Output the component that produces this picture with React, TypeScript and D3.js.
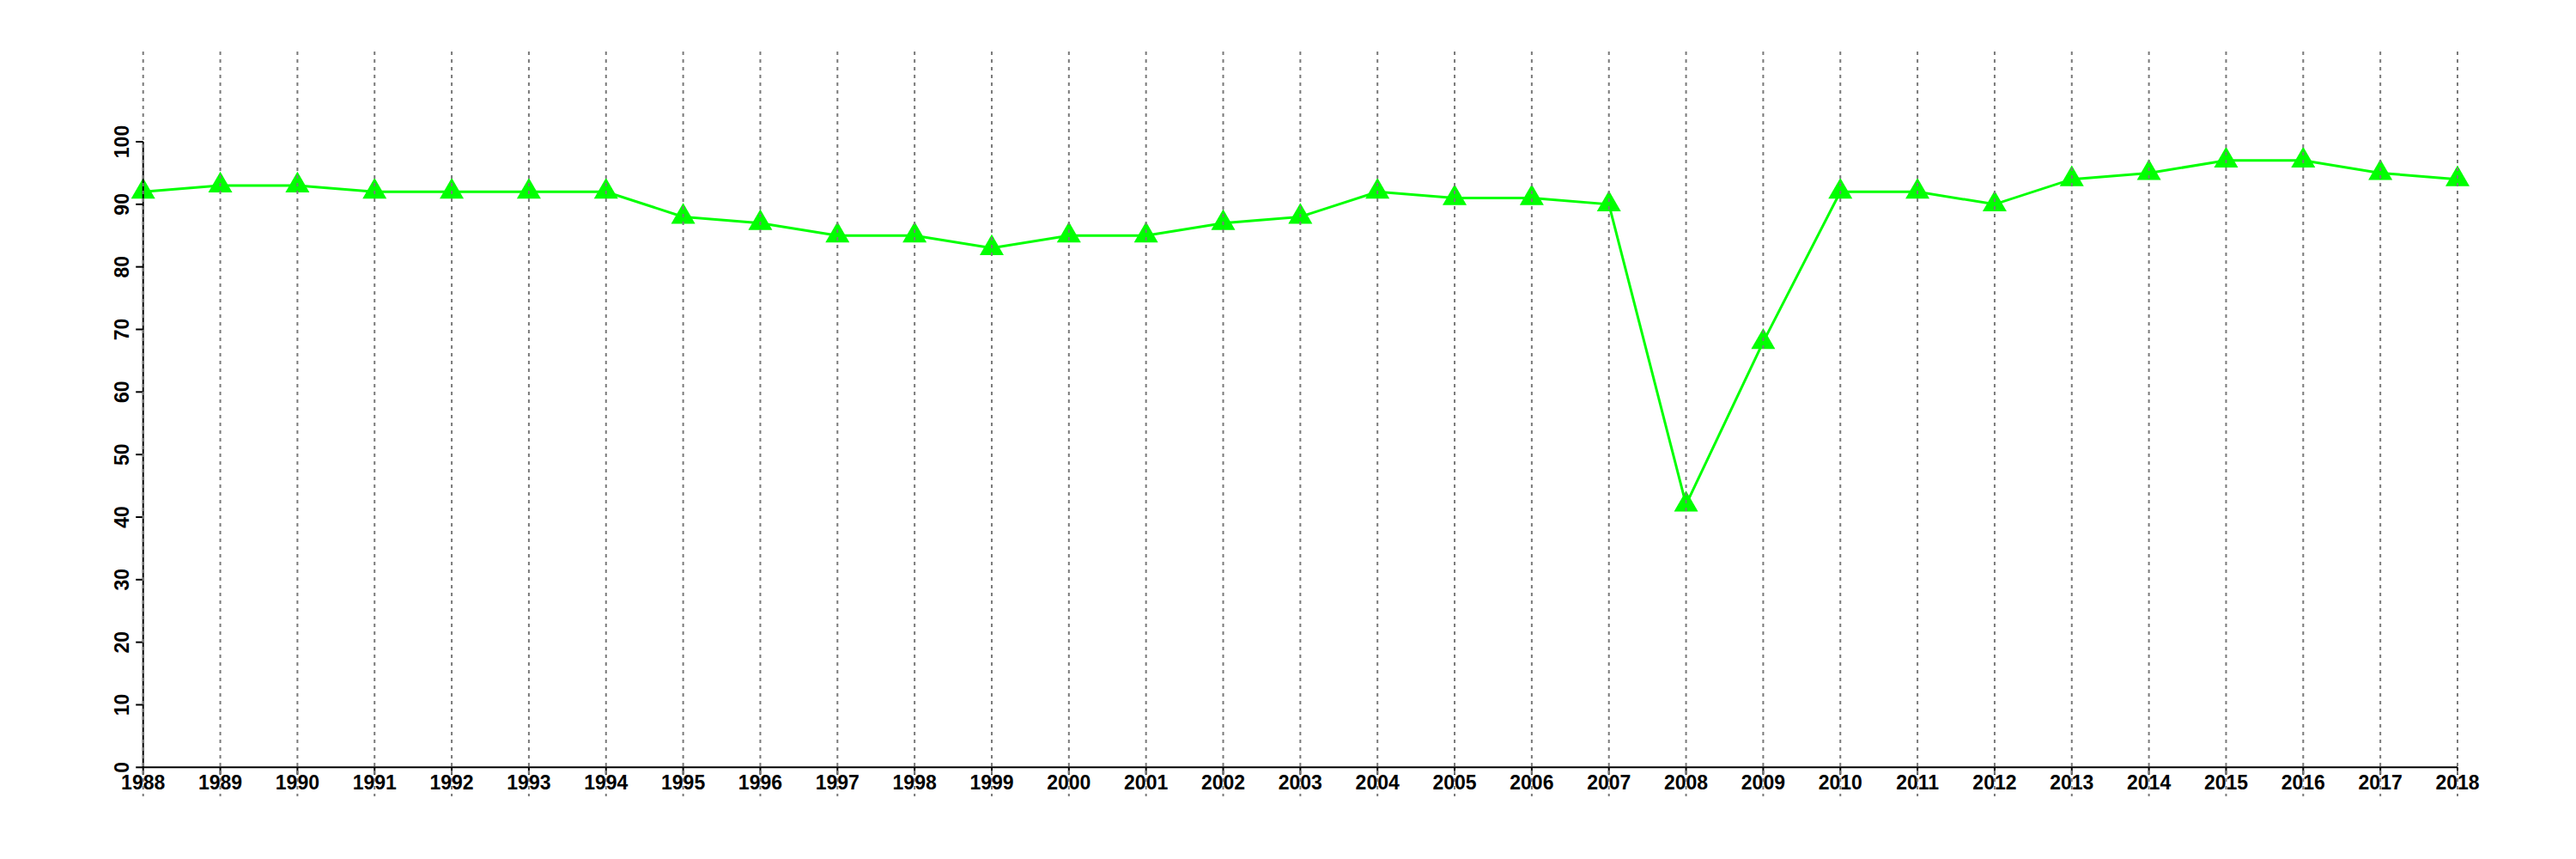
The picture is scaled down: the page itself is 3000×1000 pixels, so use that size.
import React from "react";
import * as d3 from "d3";

const years: number[] = [1988,1989,1990,1991,1992,1993,1994,1995,1996,1997,1998,1999,2000,2001,2002,2003,2004,2005,2006,2007,2008,2009,2010,2011,2012,2013,2014,2015,2016,2017,2018];
const values: number[] = [92,93,93,92,92,92,92,88,87,85,85,83,85,85,87,88,92,91,91,90,42,68,92,92,90,94,95,97,97,95,94];
const yTicks: number[] = [0,10,20,30,40,50,60,70,80,90,100];

const W = 3000, H = 1000;

export default function App() {
  const x = d3.scaleLinear().domain([1988, 2018]).range([166.7, 2862]);
  const y = d3.scaleLinear().domain([0, 100]).range([893.3, 165]);
  const line = d3.line<number>().x((_, i) => x(years[i])).y((d) => y(d));
  const s = 10.4;
  const r = 1.555 * s, xc = 1.347 * s, yc = 0.778 * s;
  const tri = (cx: number, cy: number) =>
    `M${cx},${cy - r}L${cx + xc},${cy + yc}L${cx - xc},${cy + yc}Z`;
  const font = "'Liberation Sans', Arial, Helvetica, sans-serif";
  return (
    <svg width={W} height={H} style={{ display: "block", position: "absolute", left: 0, top: 0 }}>
      <rect width={W} height={H} fill="#fff" />
      <path d={line(values) || ""} fill="none" stroke="#00ff00" strokeWidth={3} />
      {values.map((v, i) => (
        <path key={i} d={tri(x(years[i]), y(v))} fill="#00ff00" />
      ))}
      {/* y axis */}
      <line x1={x(1988)} x2={x(1988)} y1={y(0)} y2={y(100)} stroke="#000" strokeWidth={2} />
      {yTicks.map((t) => (
        <g key={t}>
          <line x1={x(1988) - 8.5} x2={x(1988)} y1={y(t)} y2={y(t)} stroke="#000" strokeWidth={2} />
          <text transform={`translate(150,${y(t)}) rotate(-90)`} textAnchor="middle" fontFamily={font} fontWeight="bold" fontSize={23} fill="#000">{t}</text>
        </g>
      ))}
      {/* x axis */}
      <line x1={x(1988)} x2={x(2018)} y1={y(0)} y2={y(0)} stroke="#000" strokeWidth={2} />
      {years.map((yr) => (
        <g key={yr}>
          <line x1={x(yr)} x2={x(yr)} y1={y(0)} y2={y(0) + 8.5} stroke="#000" strokeWidth={2} />
          <text x={x(yr)} y={919} textAnchor="middle" fontFamily={font} fontWeight="bold" fontSize={23} fill="#000">{yr}</text>
        </g>
      ))}
      {/* grid */}
      {years.map((yr) => (
        <line key={"g" + yr} x1={x(yr)} x2={x(yr)} y1={60} y2={927} stroke="#7a7a7a" strokeWidth={2} strokeDasharray="4 5" />
      ))}
    </svg>
  );
}
